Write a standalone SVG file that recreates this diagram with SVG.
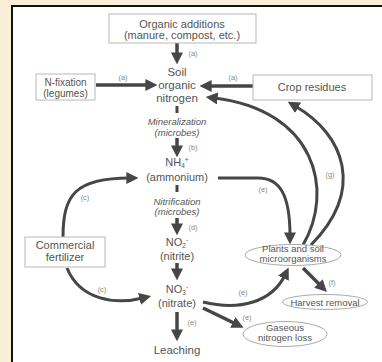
<svg xmlns="http://www.w3.org/2000/svg" width="382" height="362" viewBox="0 0 382 362">
<defs>
<style>
.t{font-family:"Liberation Sans",Arial,sans-serif;fill:#555;text-anchor:middle}
.b{font-size:11px}
.s{font-size:10px}
.c{font-size:11.5px}
.i{font-size:9.5px;font-style:italic}
.e{font-size:9.5px}
.l{font-family:"Liberation Sans",Arial,sans-serif;font-size:7.5px;fill:#8a8a8a;text-anchor:middle}
.box{fill:#fff;stroke:#b8b8b8;stroke-width:1}
.ell{fill:#fff;stroke:#aaa;stroke-width:1}
.a{fill:none;stroke:#464646;stroke-width:3.5;marker-end:url(#h)}
.ac{fill:none;stroke:#464646;stroke-width:3;marker-end:url(#h)}
</style>
<marker id="h" viewBox="0 0 10 10" markerWidth="12" markerHeight="12" markerUnits="userSpaceOnUse" refX="3" refY="5" orient="auto">
<path d="M0,0 L10,5 L0,10 z" fill="#464646"/>
</marker>
</defs>
<rect width="382" height="362" fill="#f9eed8"/>
<rect x="12" y="6" width="380" height="370" fill="#fff" stroke="#111" stroke-width="2"/>

<g id="connectors">
<path class="a" d="M177,43 V56"/>
<path class="a" d="M96,85 H149"/>
<path class="a" d="M253,86 H208"/>
<rect x="175.5" y="106" width="3" height="7" fill="#464646"/>
<path class="a" d="M177,138 V149"/>
<rect x="175.5" y="185" width="3" height="7" fill="#464646"/>
<path class="a" d="M177,218 V227"/>
<path class="a" d="M177,263 V272"/>
<path class="a" d="M177,312 V333"/>
<path class="ac" d="M63,237 C63,195 75,178 130,178"/>
<path class="ac" d="M67,268 C80,300 115,305 143,298"/>
<path class="ac" d="M218,178 H258 C280,178 290,195 290,236"/>
<path class="ac" d="M203,302 C240,311 272,302 285,275"/>
<path class="a" d="M203,308 L236,324"/>
<path class="a" d="M303,268 L321,286"/>
<path class="ac" d="M303,245 C335,190 315,110 214,98"/>
<path class="ac" d="M311,245 C365,190 345,135 295,106"/>
<text class="l" x="193" y="56">(a)</text>
<text class="l" x="123" y="80">(a)</text>
<text class="l" x="233" y="80">(a)</text>
<text class="l" x="193" y="150">(b)</text>
<text class="l" x="85" y="200">(c)</text>
<text class="l" x="263" y="192">(e)</text>
<text class="l" x="330" y="177">(g)</text>
<text class="l" x="193" y="230">(d)</text>
<text class="l" x="102" y="292">(c)</text>
<text class="l" x="243" y="295">(e)</text>
<text class="l" x="247" y="320">(e)</text>
<text class="l" x="192" y="325">(e)</text>
<text class="l" x="332" y="285">(f)</text>
</g>

<g id="organic-additions">
<rect class="box" x="109" y="14" width="147" height="29"/>
<text class="t b" x="182" y="27.5">Organic additions</text>
<text class="t b" x="182" y="39">(manure, compost, etc.)</text>
</g>
<g id="n-fixation">
<rect class="box" x="36" y="74" width="59" height="26"/>
<text class="t s" x="65.5" y="85.5">N-fixation</text>
<text class="t s" x="65.5" y="96.5">(legumes)</text>
</g>
<g id="crop-residues">
<rect class="box" x="253" y="75" width="119" height="25"/>
<text class="t b" x="312" y="91">Crop residues</text>
</g>
<g id="soil-organic-nitrogen">
<text class="t c" x="177" y="75.5">Soil</text>
<text class="t c" x="177" y="88.5">organic</text>
<text class="t c" x="177" y="101.5">nitrogen</text>
</g>
<g id="mineralization">
<text class="t i" x="177" y="125">Mineralization</text>
<text class="t i" x="177" y="136">(microbes)</text>
</g>
<g id="ammonium">
<text class="t b" x="177" y="166">NH<tspan font-size="6.5" dy="2">4</tspan><tspan font-size="6.5" dy="-6">+</tspan></text>
<text class="t b" x="177" y="181">(ammonium)</text>
</g>
<g id="nitrification">
<text class="t i" x="177" y="205">Nitrification</text>
<text class="t i" x="177" y="215">(microbes)</text>
</g>
<g id="nitrite">
<text class="t b" x="177" y="246">NO<tspan font-size="6.5" dy="2">2</tspan><tspan font-size="6.5" dy="-6">-</tspan></text>
<text class="t b" x="177" y="260">(nitrite)</text>
</g>
<g id="nitrate">
<text class="t b" x="177" y="293">NO<tspan font-size="6.5" dy="2">3</tspan><tspan font-size="6.5" dy="-6">-</tspan></text>
<text class="t b" x="177" y="307">(nitrate)</text>
</g>
<g id="leaching">
<text class="t c" x="177" y="354">Leaching</text>
</g>
<g id="commercial-fertilizer">
<rect class="box" x="25" y="237" width="80" height="30"/>
<text class="t b" x="65" y="249">Commercial</text>
<text class="t b" x="65" y="261">fertilizer</text>
</g>
<g id="plants-microorganisms">
<ellipse class="ell" cx="293" cy="255" rx="48" ry="10.5"/>
<text class="t e" x="293" y="252">Plants and soil</text>
<text class="t e" x="293" y="262">microorganisms</text>
</g>
<g id="harvest-removal">
<ellipse class="ell" cx="325" cy="302" rx="42.5" ry="7.5"/>
<text class="t e" x="325" y="305.5">Harvest removal</text>
</g>
<g id="gaseous-loss">
<ellipse class="ell" cx="285" cy="334" rx="42" ry="12.5"/>
<text class="t e" x="285" y="331">Gaseous</text>
<text class="t e" x="285" y="341">nitrogen loss</text>
</g>
</svg>
